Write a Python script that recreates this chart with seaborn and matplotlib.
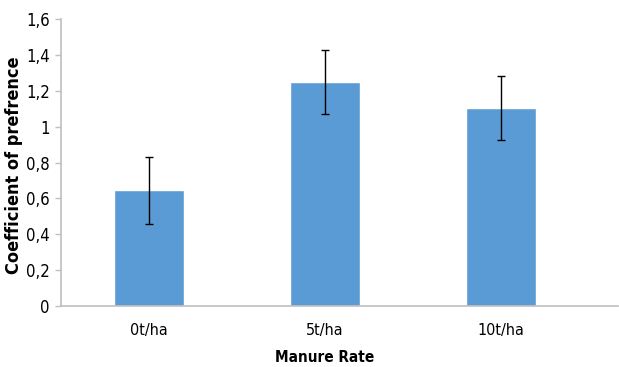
import matplotlib
matplotlib.use("Agg")
import matplotlib.pyplot as plt
import pandas as pd
import seaborn as sns

# data
rates = ["0t/ha", "5t/ha", "10t/ha"]
coef = [0.645, 1.25, 1.105]
err = [0.185, 0.18, 0.18]
yticks = [0, 0.2, 0.4, 0.6, 0.8, 1.0, 1.2, 1.4, 1.6]
ytick_labels = ["0", "0,2", "0,4", "0,6", "0,8", "1", "1,2", "1,4", "1,6"]

sns.set_theme(style="white")
plt.rcParams["font.family"] = ["DejaVu Sans"]
plt.rcParams["font.stretch"] = "condensed"
plt.rcParams["text.color"] = "black"
plt.rcParams["axes.labelcolor"] = "black"
plt.rcParams["xtick.color"] = "black"
plt.rcParams["ytick.color"] = "black"

df = pd.DataFrame({"rate": rates, "coef": coef})

fig = plt.figure(figsize=(6.19, 3.67), dpi=100)
ax = fig.add_axes([0.0985, 0.166, 0.8995, 0.782])

sns.barplot(data=df, x="rate", y="coef", color="#5B9BD5", saturation=1,
            width=0.4, errorbar=None, ax=ax)
ax.errorbar(range(len(rates)), coef, yerr=err, fmt="none", ecolor="black",
            elinewidth=1, capsize=3, capthick=1)

ax.set_ylim(0, 1.6)
ax.set_xlim(-0.5, 2.665)
ax.set_yticks(yticks)
ax.set_yticklabels(ytick_labels, fontsize=12)
ax.tick_params(axis="y", length=4, width=1, color="#bfbfbf", labelcolor="black",
               left=True, pad=4)
ax.tick_params(axis="x", length=0, labelsize=11.5, labelcolor="black", pad=12)

for s in ["top", "right"]:
    ax.spines[s].set_visible(False)
for s in ["left", "bottom"]:
    ax.spines[s].set_color("#bfbfbf")
    ax.spines[s].set_linewidth(1.2)

ax.set_xlabel("Manure Rate", fontsize=11, fontweight="bold")
ax.xaxis.set_label_coords(0.474, -0.152)
ax.set_ylabel("Coefficient of prefrence", fontsize=13, fontweight="bold")
ax.yaxis.set_label_coords(-0.068, 0.491)

fig.savefig("out.png", dpi=100)
